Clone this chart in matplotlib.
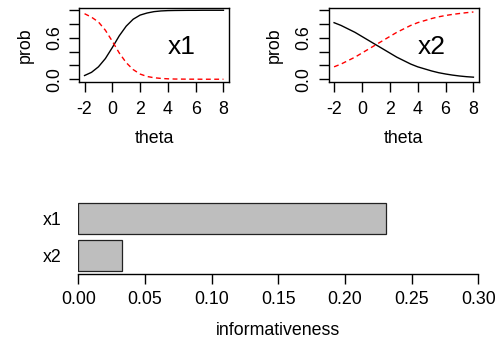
import matplotlib
matplotlib.use('Agg')
import matplotlib.pyplot as plt

plt.rcParams['font.family'] = ['Liberation Sans', 'DejaVu Sans']
plt.rcParams['font.size'] = 12.8
plt.rcParams['axes.unicode_minus'] = False

# values
theta = [-2.0, -1.5, -1.0, -0.5, 0.0, 0.5, 1.0, 1.5, 2.0, 2.5, 3.0,
         3.5, 4.0, 4.5, 5.0, 5.5, 6.0, 6.5, 7.0, 7.5, 8.0]

x1_black = [0.054, 0.10, 0.18, 0.30, 0.46, 0.63, 0.77, 0.87, 0.93, 0.96, 0.98,
            0.99, 0.995, 0.997, 0.998, 0.999, 0.999, 1.0, 1.0, 1.0, 1.0]
x1_red = [0.95, 0.90, 0.83, 0.71, 0.55, 0.38, 0.24, 0.14, 0.075, 0.04, 0.022,
          0.012, 0.006, 0.003, 0.002, 0.001, 0.001, 0.0, 0.0, 0.0, 0.0]

x2_black = [0.82, 0.78, 0.73, 0.68, 0.62, 0.56, 0.50, 0.44, 0.38, 0.32, 0.27,
            0.22, 0.18, 0.15, 0.12, 0.095, 0.076, 0.06, 0.047, 0.037, 0.03]
x2_red = [0.18, 0.22, 0.27, 0.32, 0.38, 0.44, 0.50, 0.56, 0.62, 0.68, 0.73,
          0.78, 0.82, 0.85, 0.88, 0.905, 0.924, 0.94, 0.953, 0.965, 0.975]

items = ['x1', 'x2']
informativeness = [0.231, 0.033]

W, H = 501, 341
fig = plt.figure(figsize=(W / 100, H / 100), dpi=100)


def px_axes(left, right, top, bottom):
    return fig.add_axes([left / W, 1 - bottom / H, (right - left) / W, (bottom - top) / H])


panels = [
    (px_axes(79, 229, 7.5, 82), x1_black, x1_red, 'x1'),
    (px_axes(328.5, 479, 7.5, 82), x2_black, x2_red, 'x2'),
]
for ax, black, red, name in panels:
    ax.plot(theta, black, color='black', lw=1)
    ax.plot(theta, red, color='red', lw=1, linestyle=(0, (3.5, 2.5)))
    ax.text(5, 0.47, name, fontsize=19, ha='center', va='center')
    ax.set_xlim(-2.4, 8.4)
    ax.set_ylim(-0.04, 1.04)
    ax.set_xticks([-2, 0, 2, 4, 6, 8])
    ax.set_yticks([0, 0.2, 0.4, 0.6, 0.8, 1.0])
    ax.set_yticklabels(['0.0', '', '', '0.6', '', ''], rotation=90, va='center')
    ax.tick_params(axis='x', length=7, width=1, pad=7)
    ax.tick_params(axis='y', length=7, width=1, pad=4.5)
    for sp in ax.spines.values():
        sp.set_linewidth(1)
    ax.set_xlabel('theta', labelpad=8)
    ax.set_ylabel('prob', labelpad=9)

# bar chart of informativeness
ax3 = px_axes(78.3, 478.3, 200, 274)
ax3.barh([1.9, 0.7], informativeness, height=1.0, left=0,
         color='#BEBEBE', edgecolor='#222222', linewidth=0.9)
ax3.set_xlim(0, 0.3)
ax3.set_ylim(0.112, 2.488)
ax3.set_xticks([0, 0.05, 0.10, 0.15, 0.20, 0.25, 0.30])
ax3.set_xticklabels(['0.00', '0.05', '0.10', '0.15', '0.20', '0.25', '0.30'])
ax3.set_yticks([1.9, 0.7])
ax3.set_yticklabels(items)
ax3.tick_params(axis='y', length=0, pad=12)
ax3.tick_params(axis='x', length=7, width=1, pad=5.5)
for s in ['top', 'right', 'left']:
    ax3.spines[s].set_visible(False)
ax3.spines['bottom'].set_linewidth(1)
ax3.set_xlabel('informativeness', labelpad=9.5)

fig.savefig('out.png', dpi=100)
